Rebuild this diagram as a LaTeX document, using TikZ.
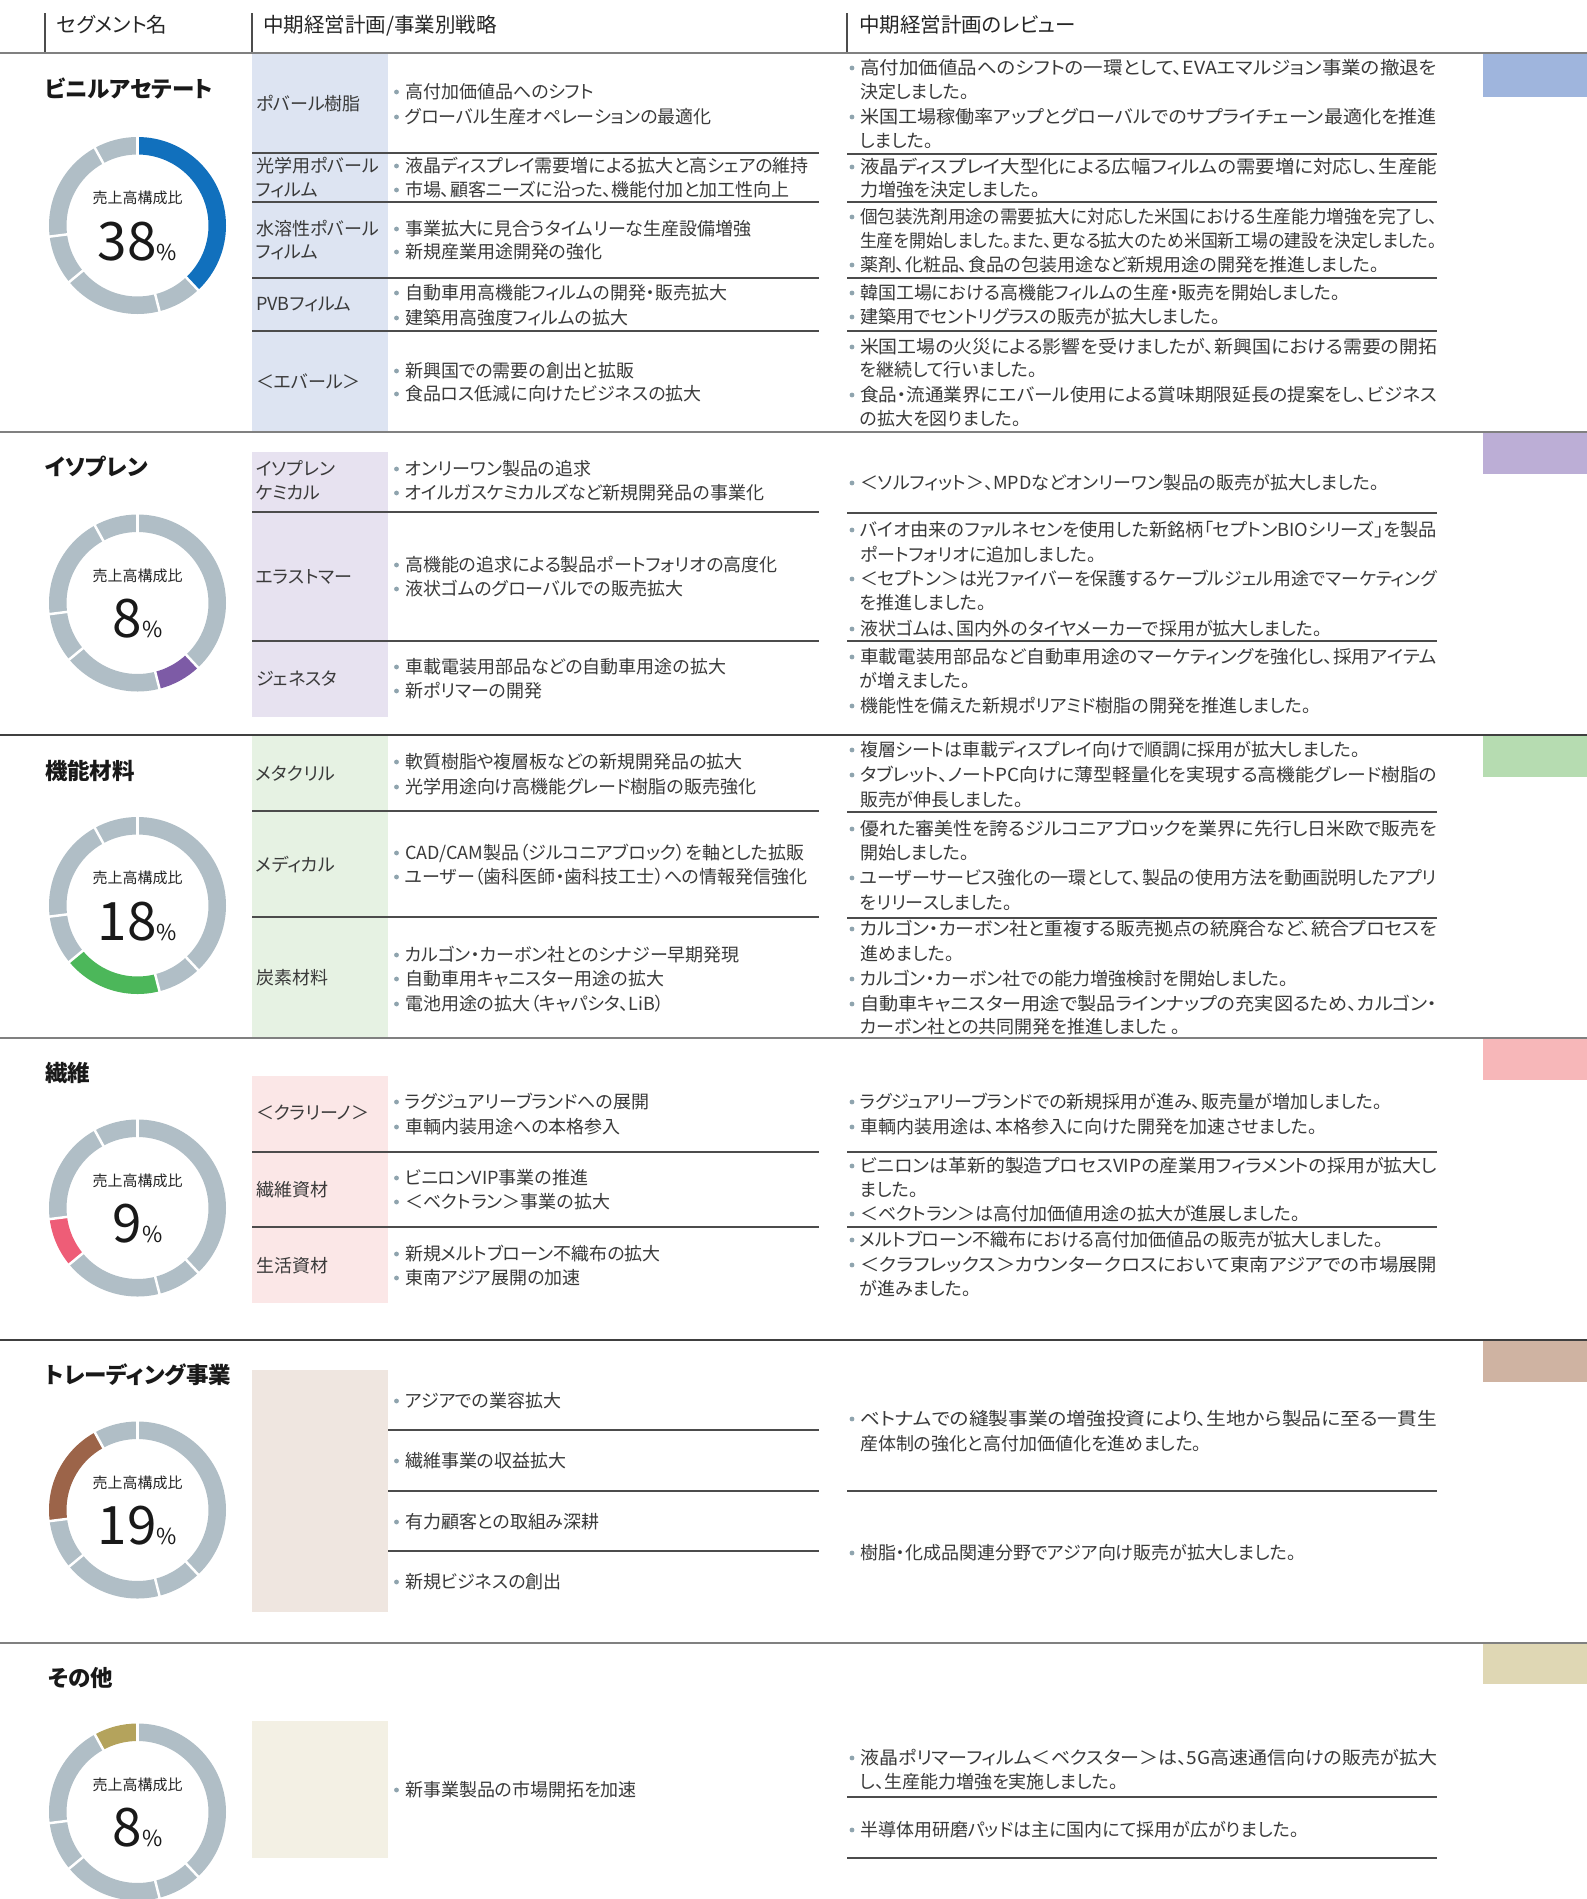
\documentclass[tikz,border=0pt]{standalone}
\usepackage{graphicx}
\usepackage{fontspec}
\setmainfont{Noto Sans CJK JP}[RawFeature={+palt}]
\definecolor{txtc}{HTML}{3A3A3A}
\definecolor{dotc}{HTML}{8FA4AE}
\definecolor{ringg}{HTML}{B0BEC6}
\definecolor{c1}{HTML}{1170BD}
\definecolor{c2}{HTML}{7D5BA6}
\definecolor{c3}{HTML}{4CB75A}
\definecolor{c4}{HTML}{EE5D77}
\definecolor{c5}{HTML}{9C6449}
\definecolor{c6}{HTML}{B4A35C}
\definecolor{t1}{HTML}{9FB5DD}
\definecolor{t2}{HTML}{BCAED6}
\definecolor{t3}{HTML}{B6DCB1}
\definecolor{t4}{HTML}{F7B7B9}
\definecolor{t5}{HTML}{CFB3A2}
\definecolor{t6}{HTML}{DFD7B4}
\definecolor{f1}{HTML}{DDE4F2}
\definecolor{f2}{HTML}{E7E2F0}
\definecolor{f3}{HTML}{E6F2E3}
\definecolor{f4}{HTML}{FBE7E7}
\definecolor{f5}{HTML}{EFE6E0}
\definecolor{f6}{HTML}{F3F0E4}
\tikzset{
 every node/.style={inner sep=0pt, outer sep=0pt},
 bul/.style={anchor=west, text=txtc, font=\fontsize{18}{18}\selectfont, text height=15.8pt, text depth=2.2pt},
 hdr/.style={anchor=west, text=black!85, font=\fontsize{20.5}{20.5}\selectfont, text height=18pt, text depth=2.5pt},
 segn/.style={anchor=west, text=black!90, font=\fontsize{22.5}{22.5}\selectfont\bfseries, text height=19.8pt, text depth=2.7pt},
 rat/.style={anchor=center, text=black!85, font=\fontsize{15}{15}\selectfont, text height=13.2pt, text depth=1.8pt},
 big/.style={anchor=base, text=black!90},
 divl/.style={draw=black!70, line width=1.5pt},
 secl/.style={draw=black!50, line width=2pt},
}
\newcount\nn
\newcommand\nx{\global\advance\nn by 1 }
\newcommand\fw[1]{\resizebox{577pt}{\height}{#1}}
\newcommand\mb[2]{\nx\edef\nm{m\the\nn}\fill[dotc] (396.5,-#1) circle (2.4);\node[bul] (\nm) at (405,-#1) {#2};}
\newcommand\lab[2]{\nx\edef\nm{l\the\nn}\node[bul] (\nm) at (256,-#1) {#2};}
\newcommand\rb[2]{\nx\edef\nm{r\the\nn}\fill[dotc] (852,-#1) circle (2.4);\node[bul] (\nm) at (860,-#1) {#2};}
\newcommand\rbj[2]{\rb{#1}{\fw{#2}}}
\newcommand\rc[2]{\nx\edef\nm{r\the\nn}\node[bul] (\nm) at (860,-#1) {#2};}
\newcommand\mline[1]{\draw[divl] (252,-#1) -- (819,-#1);}
\newcommand\rline[1]{\draw[divl] (847,-#1) -- (1437,-#1);}
\newcommand\donut[3]{%
 \begin{scope}[shift={(137.5,-#1)}]
 \foreach \a/\b/\k in {90/-46.8/1,-46.8/-75.6/2,-75.6/-140.4/3,-140.4/-172.8/4,-172.8/-241.2/5,-241.2/-270/6}{
   \ifnum\k=#2\relax\def\col{#3}\else\def\col{ringg}\fi
   \fill[fill=\col] (\a:88.5) arc[start angle=\a,end angle=\b,radius=88.5] -- (\b:71) arc[start angle=\b,end angle=\a,radius=71] -- cycle;
 }
 \foreach \a in {90,-46.8,-75.6,-140.4,-172.8,-241.2}{\draw[white,line width=2.5pt] (\a:68) -- (\a:91);}
 \end{scope}}
\newcommand\ratio[3]{%
 \node[rat] (rl#3) at (137.5,-#1+27.5) {売上高構成比};
 \node[big] (rv#3) at (137.5,-#1-34.5) {\fontsize{53}{53}\selectfont #2\fontsize{22}{22}\selectfont\%};}
\begin{document}
\begin{tikzpicture}[x=1pt,y=1pt]
\useasboundingbox (0,0) rectangle (1587,-1899);
\clip (0,0) rectangle (1587,-1899);
\fill[white] (0,0) rectangle (1587,-1899);
% label column fills
\fill[f1] (252,-54) rectangle (388,-432);
\fill[f2] (252,-452) rectangle (388,-717);
\fill[f3] (252,-735) rectangle (388,-1037);
\fill[f4] (252,-1076) rectangle (388,-1303);
\fill[f5] (252,-1370) rectangle (388,-1612);
\fill[f6] (252,-1721) rectangle (388,-1858);
% tabs
\fill[t1] (1483,-54) rectangle (1587,-97);
\fill[t2] (1483,-433) rectangle (1587,-474);
\fill[t3] (1483,-736) rectangle (1587,-777);
\fill[t4] (1483,-1039) rectangle (1587,-1080);
\fill[t5] (1483,-1341) rectangle (1587,-1382);
\fill[t6] (1483,-1644) rectangle (1587,-1684);
% header
\draw[divl] (45,-13) -- (45,-53);
\draw[divl] (252,-13) -- (252,-53);
\draw[divl] (847,-13) -- (847,-53);
\node[hdr] (h1) at (57,-25) {セグメント名};
\node[hdr] (h2) at (263,-25) {中期経営計画/事業別戦略};
\node[hdr] (h3) at (859,-25) {中期経営計画のレビュー};
\draw[secl] (0,-53) -- (1587,-53);
\draw[secl] (0,-432) -- (1587,-432);
\draw[secl,draw=black!75] (0,-735) -- (1587,-735);
\draw[secl] (0,-1038) -- (1587,-1038);
\draw[secl,draw=black!75] (0,-1340) -- (1587,-1340);
\draw[secl] (0,-1643) -- (1587,-1643);
% segment names
\node[segn] (s1) at (45,-89) {ビニルアセテート};
\node[segn] (s2) at (45,-467) {イソプレン};
\node[segn] (s3) at (45,-771) {機能材料};
\node[segn] (s4) at (45,-1073) {繊維};
\node[segn] (s5) at (45,-1375) {トレーディング事業};
\node[segn] (s6) at (48,-1678) {その他};
% donuts
\donut{225.5}{1}{c1}\ratio{225.5}{38}{a}
\donut{603}{2}{c2}\ratio{603}{8}{b}
\donut{905.5}{3}{c3}\ratio{905.5}{18}{c}
\donut{1208}{4}{c4}\ratio{1208}{9}{d}
\donut{1510}{5}{c5}\ratio{1510}{19}{e}
\donut{1812}{6}{c6}\ratio{1812}{8}{f}
% ===== section 1
\mline{153}\mline{202}\mline{278}\mline{331}
\lab{104}{ポバール樹脂}
\lab{166}{光学用ポバール}\lab{190}{フィルム}
\lab{229}{水溶性ポバール}\lab{252}{フィルム}
\lab{304}{PVBフィルム}
\lab{382}{＜エバール＞}
\mb{92}{高付加価値品へのシフト}
\mb{117}{グローバル生産オペレーションの最適化}
\mb{166}{液晶ディスプレイ需要増による拡大と高シェアの維持}
\mb{190}{市場、顧客ニーズに沿った、機能付加と加工性向上}
\mb{229}{事業拡大に見合うタイムリーな生産設備増強}
\mb{252}{新規産業用途開発の強化}
\mb{293}{自動車用高機能フィルムの開発・販売拡大}
\mb{318}{建築用高強度フィルムの拡大}
\mb{371}{新興国での需要の創出と拡販}
\mb{394}{食品ロス低減に向けたビジネスの拡大}
\rline{154}\rline{202}\rline{278}\rline{331}
\rbj{68}{高付加価値品へのシフトの一環として、EVAエマルジョン事業の撤退を}
\rc{92}{決定しました。}
\rbj{117}{米国工場稼働率アップとグローバルでのサプライチェーン最適化を推進}
\rc{141}{しました。}
\rbj{167}{液晶ディスプレイ大型化による広幅フィルムの需要増に対応し、生産能}
\rc{190}{力増強を決定しました。}
\rbj{217}{個包装洗剤用途の需要拡大に対応した米国における生産能力増強を完了し、}
\rc{241}{\fw{生産を開始しました。また、更なる拡大のため米国新工場の建設を決定しました。}}
\rb{265}{薬剤、化粧品、食品の包装用途など新規用途の開発を推進しました。}
\rb{293}{韓国工場における高機能フィルムの生産・販売を開始しました。}
\rb{317}{建築用でセントリグラスの販売が拡大しました。}
\rbj{347}{米国工場の火災による影響を受けましたが、新興国における需要の開拓}
\rc{370}{を継続して行いました。}
\rbj{395}{食品・流通業界にエバール使用による賞味期限延長の提案をし、ビジネス}
\rc{419}{の拡大を図りました。}
% ===== section 2
\mline{512}\mline{641}
\lab{469}{イソプレン}\lab{493}{ケミカル}
\lab{577}{エラストマー}
\lab{679}{ジェネスタ}
\mb{469}{オンリーワン製品の追求}
\mb{493}{オイルガスケミカルズなど新規開発品の事業化}
\mb{565}{高機能の追求による製品ポートフォリオの高度化}
\mb{589}{液状ゴムのグローバルでの販売拡大}
\mb{667}{車載電装用部品などの自動車用途の拡大}
\mb{691}{新ポリマーの開発}
\rline{513}\rline{641}
\rb{483}{＜ソルフィット＞、MPDなどオンリーワン製品の販売が拡大しました。}
\rbj{530}{バイオ由来のファルネセンを使用した新銘柄「セプトンBIOシリーズ」を製品}
\rc{555}{ポートフォリオに追加しました。}
\rbj{579}{＜セプトン＞は光ファイバーを保護するケーブルジェル用途でマーケティング}
\rc{603}{を推進しました。}
\rb{629}{液状ゴムは、国内外のタイヤメーカーで採用が拡大しました。}
\rbj{657}{車載電装用部品など自動車用途のマーケティングを強化し、採用アイテム}
\rc{681}{が増えました。}
\rb{706}{機能性を備えた新規ポリアミド樹脂の開発を推進しました。}
% ===== section 3
\mline{811}\mline{917}
\lab{774}{メタクリル}
\lab{865}{メディカル}
\lab{978}{炭素材料}
\mb{762}{軟質樹脂や複層板などの新規開発品の拡大}
\mb{787}{光学用途向け高機能グレード樹脂の販売強化}
\mb{853}{CAD/CAM製品（ジルコニアブロック）を軸とした拡販}
\mb{877}{ユーザー（歯科医師・歯科技工士）への情報発信強化}
\mb{955}{カルゴン・カーボン社とのシナジー早期発現}
\mb{979}{自動車用キャニスター用途の拡大}
\mb{1004}{電池用途の拡大（キャパシタ、LiB）}
\rline{812}\rline{918}
\rb{750}{複層シートは車載ディスプレイ向けで順調に採用が拡大しました。}
\rbj{775}{タブレット、ノートPC向けに薄型軽量化を実現する高機能グレード樹脂の}
\rc{800}{販売が伸長しました。}
\rbj{829}{優れた審美性を誇るジルコニアブロックを業界に先行し日米欧で販売を}
\rc{853}{開始しました。}
\rbj{878}{ユーザーサービス強化の一環として、製品の使用方法を動画説明したアプリ}
\rc{903}{をリリースしました。}
\rbj{929}{カルゴン・カーボン社と重複する販売拠点の統廃合など、統合プロセスを}
\rc{954}{進めました。}
\rb{979}{カルゴン・カーボン社での能力増強検討を開始しました。}
\rbj{1004}{自動車キャニスター用途で製品ラインナップの充実図るため、カルゴン・}
\rc{1027}{カーボン社との共同開発を推進しました 。}
% ===== section 4
\mline{1152}\mline{1227}
\lab{1113}{＜クラリーノ＞}
\lab{1190}{繊維資材}
\lab{1266}{生活資材}
\mb{1102}{ラグジュアリーブランドへの展開}
\mb{1127}{車輌内装用途への本格参入}
\mb{1178}{ビニロンVIP事業の推進}
\mb{1202}{＜ベクトラン＞事業の拡大}
\mb{1254}{新規メルトブローン不織布の拡大}
\mb{1278}{東南アジア展開の加速}
\rline{1152}\rline{1227}
\rb{1102}{ラグジュアリーブランドでの新規採用が進み、販売量が増加しました。}
\rb{1127}{車輌内装用途は、本格参入に向けた開発を加速させました。}
\rbj{1166}{ビニロンは革新的製造プロセスVIPの産業用フィラメントの採用が拡大し}
\rc{1190}{ました。}
\rb{1214}{＜ベクトラン＞は高付加価値用途の拡大が進展しました。}
\rb{1240}{メルトブローン不織布における高付加価値品の販売が拡大しました。}
\rbj{1265}{＜クラフレックス＞カウンタークロスにおいて東南アジアでの市場展開}
\rc{1289}{が進みました。}
% ===== section 5
\draw[divl] (388,-1430) -- (819,-1430);
\draw[divl] (388,-1491) -- (819,-1491);
\draw[divl] (388,-1551) -- (819,-1551);
\mb{1401}{アジアでの業容拡大}
\mb{1461}{繊維事業の収益拡大}
\mb{1522}{有力顧客との取組み深耕}
\mb{1582}{新規ビジネスの創出}
\rline{1491}
\rbj{1419}{ベトナムでの縫製事業の増強投資により、生地から製品に至る一貫生}
\rc{1444}{産体制の強化と高付加価値化を進めました。}
\rb{1553}{樹脂・化成品関連分野でアジア向け販売が拡大しました。}
% ===== section 6
\mb{1790}{新事業製品の市場開拓を加速}
\rline{1797}\rline{1858}
\rbj{1758}{液晶ポリマーフィルム＜ベクスター＞は、5G高速通信向けの販売が拡大}
\rc{1782}{し、生産能力増強を実施しました。}
\rb{1830}{半導体用研磨パッドは主に国内にて採用が広がりました。}
\end{tikzpicture}
\end{document}
